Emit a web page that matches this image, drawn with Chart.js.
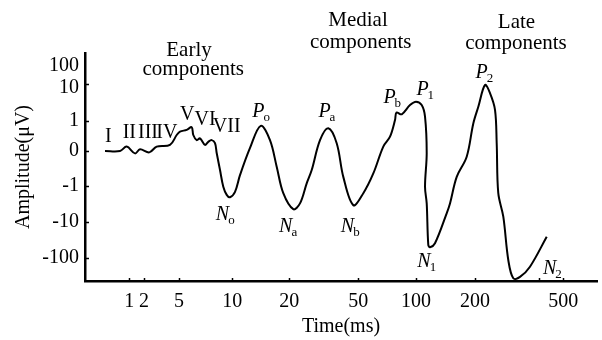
<!DOCTYPE html>
<html><head><meta charset="utf-8">
<script src="https://cdn.jsdelivr.net/npm/chart.js@4/dist/chart.umd.min.js"></script>
<style>html,body{margin:0;padding:0;background:#fff;}canvas{display:block;}</style>
</head><body>
<canvas id="c" width="602" height="340"></canvas>
<script>
// Horizontal position on the (hand-drawn, log-like) time axis, in axis units
const timePos = [3.91,6.84,8.14,9.77,10.74,12.56,14.0,16.6,17.91,18.55,19.86,20.84,21.15,21.82,22.46,23.44,24.08,24.75,25.39,25.72,26.37,27.01,27.68,28.32,29.30,30.27,32.23,34.32,36.13,37.44,38.73,40.68,41.99,43.30,44.28,45.90,47.52,49.16,50.45,52.40,54.36,56.31,58.26,59.57,60.55,60.84,61.86,63.48,64.65,65.76,66.41,66.74,66.41,66.74,67.05,67.38,68.36,70.64,71.29,72.60,74.55,75.84,76.82,78.13,79.10,80.08,80.41,80.72,81.70,82.68,83.65,84.96,86.91,90.18];
// Amplitude on the compressed (log-like, signed) amplitude axis, in axis units
const amplitude = [0,0,0.13,-0.07,0.05,-0.04,0.13,0.18,0.47,0.57,0.62,0.70,0.47,0.32,0.37,0.18,0.27,0.32,0.23,-0.06,-0.56,-1.05,-1.29,-1.36,-1.20,-0.71,0.09,0.74,0.32,-0.46,-1.24,-1.71,-1.54,-0.95,-0.56,0.32,0.67,0.23,-0.76,-1.59,-1.24,-0.66,0.13,0.42,0.91,1.13,1.08,1.35,1.45,1.35,1.01,-0.06,-1.05,-1.54,-2.76,-2.83,-2.71,-1.83,-1.54,-0.76,-0.17,0.81,1.30,1.94,1.70,1.21,0.23,-1.24,-1.93,-3.21,-3.74,-3.70,-3.40,-2.52];

const xTickPos = [8.65,11.52,18.36,28.77,39.90,53.38,64.65,76.17,88.73,93.42];
const xTickLabels = ['1','2','5','10','20','50','100','200','','500'];
const yTickPos = [2.5,1.87,0.88,0,-1.03,-2.09,-3.15];
const yTickLabels = ['100','10','1','0','-1','-10','-100'];
const yTickMarks = [1.97,0.88,0,-1.03,-2.09,-3.15];

const sectionText = ['Early','components','Medial','components','Late','components'];
const sectionX = [20.31,21.15,53.32,53.85,84.28,84.18];
const sectionY = [2.80,2.24,3.68,3.04,3.61,3.00];

const waveNames = ['I','II','III','IV','V','VI','VII'];
const waveX = [4.55,8.65,12.3,16.0,19.98,23.44,27.68];
const waveY = [0.26,0.38,0.38,0.38,0.91,0.76,0.57];

const peakLetter = ['P','N','P','N','N','P','P','N','P','N'];
const peakSub = ['o','o','a','a','b','b','1','1','2','2'];
const peakX = [33.85,26.86,46.78,39.21,51.27,59.47,65.92,66.21,77.48,90.74];
const peakY = [1.01,-2.03,0.99,-2.37,-2.37,1.40,1.65,-3.40,2.14,-3.60];

const SERIF = "'Liberation Serif','Times New Roman',serif";

const annotate = {
  id:'annotate',
  afterDraw(chart){
    const ctx = chart.ctx, xs = chart.scales.x, ys = chart.scales.y, ca = chart.chartArea;
    ctx.save();
    ctx.strokeStyle = '#000'; ctx.fillStyle = '#000'; ctx.lineWidth = 1.5;
    // inward tick marks
    xTickPos.forEach(v => { const px = Math.round(xs.getPixelForValue(v))+0.5; ctx.beginPath(); ctx.moveTo(px, ca.bottom); ctx.lineTo(px, ca.bottom-3); ctx.stroke(); });
    yTickMarks.forEach(v => { const py = Math.round(ys.getPixelForValue(v))+0.5; ctx.beginPath(); ctx.moveTo(ca.left, py); ctx.lineTo(ca.left+4, py); ctx.stroke(); });
    ctx.textBaseline = 'alphabetic'; ctx.textAlign = 'center';
    ctx.font = '21px ' + SERIF;
    sectionText.forEach((t,i) => ctx.fillText(t, xs.getPixelForValue(sectionX[i]), ys.getPixelForValue(sectionY[i])));
    ctx.font = '20px ' + SERIF;
    waveNames.forEach((t,i) => ctx.fillText(t, xs.getPixelForValue(waveX[i]), ys.getPixelForValue(waveY[i])));
    peakLetter.forEach((t,i) => {
      const px = xs.getPixelForValue(peakX[i]), py = ys.getPixelForValue(peakY[i]);
      ctx.font = 'italic 20px ' + SERIF; ctx.textAlign = 'center';
      const w = ctx.measureText(t).width;
      ctx.fillText(t, px, py);
      ctx.font = '13px ' + SERIF; ctx.textAlign = 'left';
      ctx.fillText(peakSub[i], px + w/2 - 1, py + 4);
    });
    ctx.restore();
  }
};

new Chart(document.getElementById('c'), {
  type:'line',
  data:{ datasets:[{ data: timePos.map((x,i)=>({x:x, y:amplitude[i]})), borderColor:'#000', borderWidth:2, pointRadius:0, tension:0.35, fill:false }]},
  options:{
    responsive:false, animation:false, devicePixelRatio:1,
    layout:{padding:{left:0,right:5,top:53,bottom:0}},
    plugins:{legend:{display:false}, tooltip:{enabled:false}},
    scales:{
      x:{ type:'linear', min:0, max:100,
        afterBuildTicks: s => { s.ticks = xTickPos.map(v=>({value:v})); },
        afterFit: s => { s.height = 59; },
        ticks:{ callback:(v,i)=>xTickLabels[i], font:{family:SERIF,size:20}, color:'#000', padding:9, maxRotation:0, autoSkip:false },
        grid:{display:false, drawTicks:false},
        border:{display:true, color:'#000', width:2.5},
        title:{display:true, text:'Time(ms)', color:'#000', font:{family:SERIF,size:20}, padding:{top:0,bottom:1}}
      },
      y:{ type:'linear', min:-3.82, max:2.88,
        afterBuildTicks: s => { s.ticks = yTickPos.map(v=>({value:v})); },
        afterFit: s => { s.width = 85; },
        ticks:{ callback:(v,i)=>yTickLabels[i], font:{family:SERIF,size:20}, color:'#000', padding:6, autoSkip:false },
        grid:{display:false, drawTicks:false},
        border:{display:true, color:'#000', width:2.5},
        title:{display:true, text:'Amplitude(μV)', color:'#000', font:{family:SERIF,size:20}, padding:{top:12,bottom:0}}
      }
    }
  },
  plugins:[annotate]
});
</script>
</body></html>
